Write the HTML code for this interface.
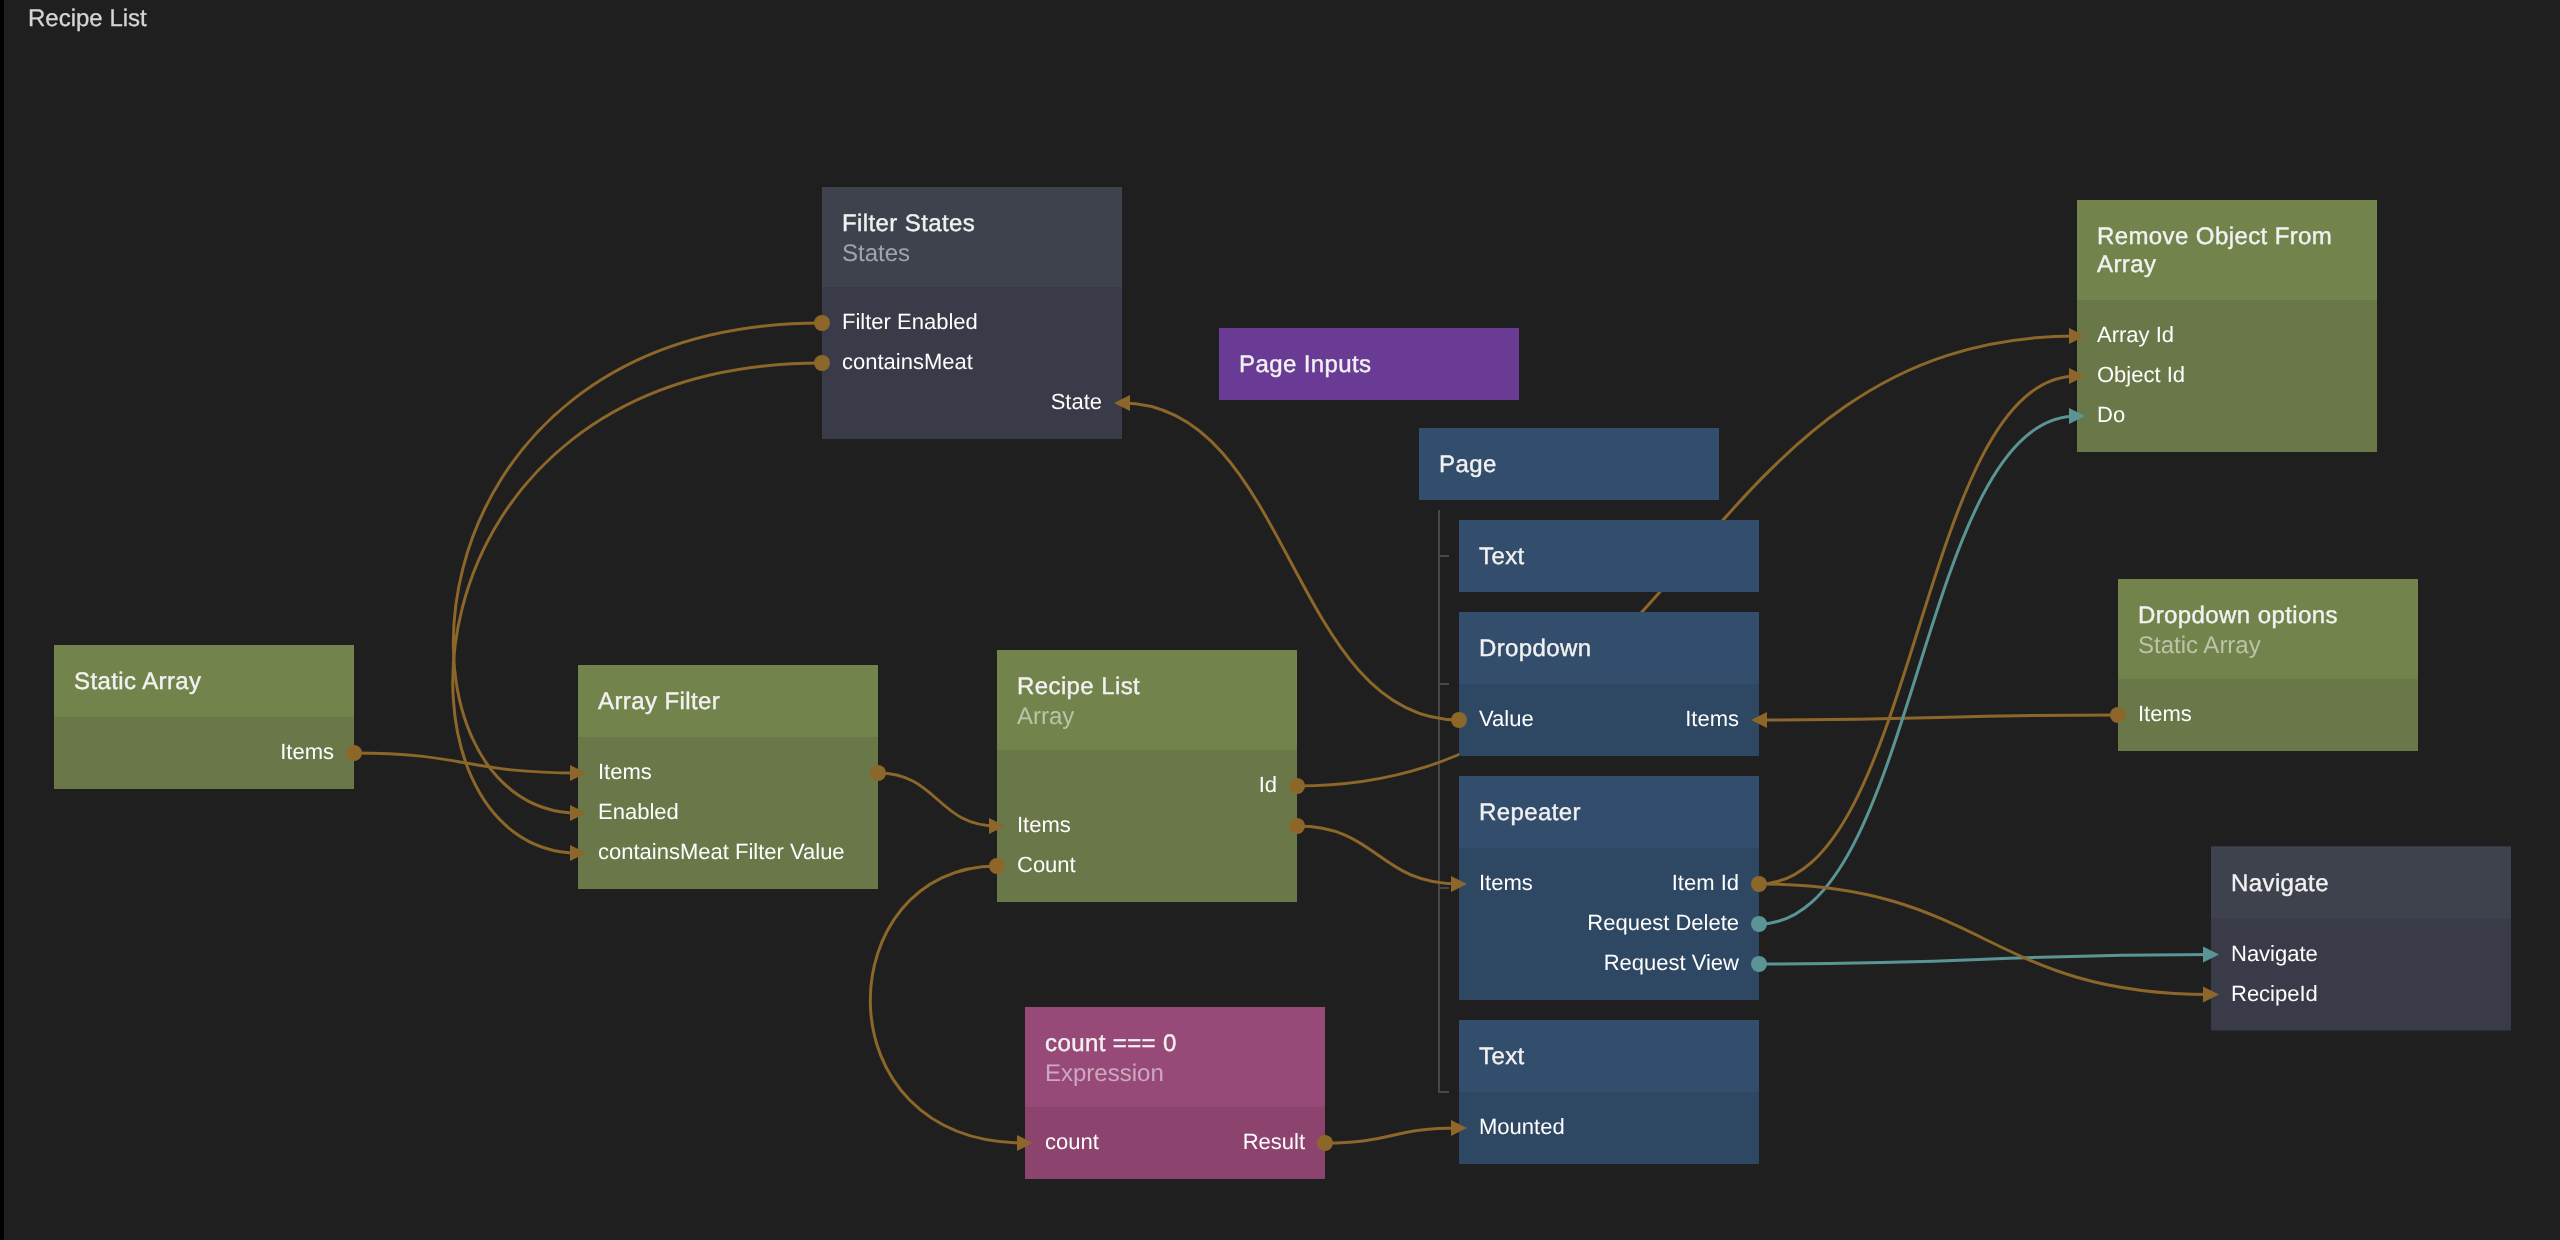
<!DOCTYPE html>
<html><head><meta charset="utf-8"><style>
html,body{margin:0;padding:0;background:#1f1f1f;width:2560px;height:1240px;overflow:hidden}
svg{display:block}
text{text-rendering:geometricPrecision}
.tg{will-change:transform}
text{font-family:"Liberation Sans",sans-serif;}
.pt{font-size:24px;fill:#d6d6d6;stroke:#d6d6d6;stroke-width:0.3px}
.ti{font-size:24px;letter-spacing:0.4px;fill:#f2f2f2;stroke:#f2f2f2;stroke-width:0.4px}
.su{font-size:24px;fill:#ffffff;fill-opacity:0.52}
.po{font-size:22px;fill:#ffffff}
</style></head><body>
<svg width="2560" height="1240" viewBox="0 0 2560 1240">
<rect x="0" y="0" width="2560" height="1240" fill="#1f1f1f"/>
<rect x="0" y="0" width="4" height="1240" fill="#000000"/>
<path d="M1439 510 V1092 H1449 M1439 556 H1449 M1439 684 H1449 M1439 888 H1449" stroke="#474747" stroke-width="2" fill="none"/>
<path d="M354 753 C466.0 753 466.0 773 578 773" stroke="#8c6729" stroke-width="3" fill="none"/>
<path d="M822 323 C388 323 380 813 578 813" stroke="#8c6729" stroke-width="3" fill="none"/>
<path d="M822 363 C386 363 380 853 578 853" stroke="#8c6729" stroke-width="3" fill="none"/>
<path d="M878 773 C937.5 773 937.5 826 997 826" stroke="#8c6729" stroke-width="3" fill="none"/>
<path d="M1297 786 C1687.0 786 1687.0 336 2077 336" stroke="#8c6729" stroke-width="3" fill="none"/>
<path d="M1297 826 C1378.0 826 1378.0 884 1459 884" stroke="#8c6729" stroke-width="3" fill="none"/>
<path d="M997 866 C830 866 817 1143 1025 1143" stroke="#8c6729" stroke-width="3" fill="none"/>
<path d="M1325 1143 C1392.0 1143 1392.0 1128 1459 1128" stroke="#8c6729" stroke-width="3" fill="none"/>
<path d="M1459 720 C1290.5 720 1290.5 403 1122 403" stroke="#8c6729" stroke-width="3" fill="none"/>
<path d="M2118 715 C1938.5 715 1938.5 720 1759 720" stroke="#8c6729" stroke-width="3" fill="none"/>
<path d="M1759 884 C1918.0 884 1918.0 376 2077 376" stroke="#8c6729" stroke-width="3" fill="none"/>
<path d="M1759 924 C1918.0 924 1918.0 416 2077 416" stroke="#5a9494" stroke-width="3" fill="none"/>
<path d="M1759 964 C1985.0 964 1985.0 954.5 2211 954.5" stroke="#5a9494" stroke-width="3" fill="none"/>
<path d="M1759 884 C1985.0 884 1985.0 994.5 2211 994.5" stroke="#8c6729" stroke-width="3" fill="none"/>
<rect x="822" y="187" width="300" height="252" fill="#393c48"/>
<rect x="822" y="187" width="300" height="100" fill="#3e424d"/>
<rect x="1219" y="328" width="300" height="72" fill="#693b94"/>
<rect x="1419" y="428" width="300" height="72" fill="#334e6c"/>
<rect x="1459" y="520" width="300" height="72" fill="#334e6c"/>
<rect x="1459" y="612" width="300" height="144" fill="#2e4863"/>
<rect x="1459" y="612" width="300" height="72" fill="#334e6c"/>
<rect x="1459" y="776" width="300" height="224" fill="#2e4863"/>
<rect x="1459" y="776" width="300" height="72" fill="#334e6c"/>
<rect x="1459" y="1020" width="300" height="144" fill="#2e4863"/>
<rect x="1459" y="1020" width="300" height="72" fill="#334e6c"/>
<rect x="2077" y="200" width="300" height="252" fill="#6a7849"/>
<rect x="2077" y="200" width="300" height="100" fill="#72834b"/>
<rect x="2118" y="579" width="300" height="172" fill="#6a7849"/>
<rect x="2118" y="579" width="300" height="100" fill="#72834b"/>
<rect x="2211" y="846.5" width="300" height="184" fill="#393c48"/>
<rect x="2211" y="846.5" width="300" height="72" fill="#3e424d"/>
<rect x="54" y="645" width="300" height="144" fill="#6a7849"/>
<rect x="54" y="645" width="300" height="72" fill="#72834b"/>
<rect x="578" y="665" width="300" height="224" fill="#6a7849"/>
<rect x="578" y="665" width="300" height="72" fill="#72834b"/>
<rect x="997" y="650" width="300" height="252" fill="#6a7849"/>
<rect x="997" y="650" width="300" height="100" fill="#72834b"/>
<rect x="1025" y="1007" width="300" height="172" fill="#8c436e"/>
<rect x="1025" y="1007" width="300" height="100" fill="#974a78"/>
<circle cx="354" cy="753" r="8" fill="#8c6729"/>
<circle cx="822" cy="323" r="8" fill="#8c6729"/>
<circle cx="822" cy="363" r="8" fill="#8c6729"/>
<path d="M1130 395 L1114 403 L1130 411Z" fill="#8c6729"/>
<path d="M570 765 L586 773 L570 781Z" fill="#8c6729"/>
<path d="M570 805 L586 813 L570 821Z" fill="#8c6729"/>
<path d="M570 845 L586 853 L570 861Z" fill="#8c6729"/>
<circle cx="878" cy="773" r="8" fill="#8c6729"/>
<circle cx="1297" cy="786" r="8" fill="#8c6729"/>
<path d="M989 818 L1005 826 L989 834Z" fill="#8c6729"/>
<circle cx="1297" cy="826" r="8" fill="#8c6729"/>
<circle cx="997" cy="866" r="8" fill="#8c6729"/>
<path d="M1017 1135 L1033 1143 L1017 1151Z" fill="#8c6729"/>
<circle cx="1325" cy="1143" r="8" fill="#8c6729"/>
<circle cx="1459" cy="720" r="8" fill="#8c6729"/>
<path d="M1767 712 L1751 720 L1767 728Z" fill="#8c6729"/>
<path d="M1451 876 L1467 884 L1451 892Z" fill="#8c6729"/>
<circle cx="1759" cy="884" r="8" fill="#8c6729"/>
<circle cx="1759" cy="924" r="8" fill="#5a9494"/>
<circle cx="1759" cy="964" r="8" fill="#5a9494"/>
<path d="M1451 1120 L1467 1128 L1451 1136Z" fill="#8c6729"/>
<path d="M2069 328 L2085 336 L2069 344Z" fill="#8c6729"/>
<path d="M2069 368 L2085 376 L2069 384Z" fill="#8c6729"/>
<path d="M2069 408 L2085 416 L2069 424Z" fill="#5a9494"/>
<circle cx="2118" cy="715" r="8" fill="#8c6729"/>
<path d="M2203 946.5 L2219 954.5 L2203 962.5Z" fill="#5a9494"/>
<path d="M2203 986.5 L2219 994.5 L2203 1002.5Z" fill="#8c6729"/>
<g class="tg" style="opacity:0.999"><text x="28" y="26" class="pt">Recipe List</text>
<text x="842" y="231" class="ti">Filter States</text>
<text x="842" y="261" class="su">States</text>
<text x="842" y="329" class="po">Filter Enabled</text>
<text x="842" y="369" class="po">containsMeat</text>
<text x="1102" y="409" class="po" text-anchor="end">State</text>
<text x="1239" y="372" class="ti">Page Inputs</text>
<text x="1439" y="472" class="ti">Page</text>
<text x="1479" y="564" class="ti">Text</text>
<text x="1479" y="656" class="ti">Dropdown</text>
<text x="1479" y="726" class="po">Value</text>
<text x="1739" y="726" class="po" text-anchor="end">Items</text>
<text x="1479" y="820" class="ti">Repeater</text>
<text x="1479" y="890" class="po">Items</text>
<text x="1739" y="890" class="po" text-anchor="end">Item Id</text>
<text x="1739" y="930" class="po" text-anchor="end">Request Delete</text>
<text x="1739" y="970" class="po" text-anchor="end">Request View</text>
<text x="1479" y="1064" class="ti">Text</text>
<text x="1479" y="1134" class="po">Mounted</text>
<text x="2097" y="244" class="ti">Remove Object From</text>
<text x="2097" y="272" class="ti">Array</text>
<text x="2097" y="342" class="po">Array Id</text>
<text x="2097" y="382" class="po">Object Id</text>
<text x="2097" y="422" class="po">Do</text>
<text x="2138" y="623" class="ti">Dropdown options</text>
<text x="2138" y="653" class="su">Static Array</text>
<text x="2138" y="721" class="po">Items</text>
<text x="2231" y="890.5" class="ti">Navigate</text>
<text x="2231" y="960.5" class="po">Navigate</text>
<text x="2231" y="1000.5" class="po">RecipeId</text>
<text x="74" y="689" class="ti">Static Array</text>
<text x="334" y="759" class="po" text-anchor="end">Items</text>
<text x="598" y="709" class="ti">Array Filter</text>
<text x="598" y="779" class="po">Items</text>
<text x="598" y="819" class="po">Enabled</text>
<text x="598" y="859" class="po">containsMeat Filter Value</text>
<text x="1017" y="694" class="ti">Recipe List</text>
<text x="1017" y="724" class="su">Array</text>
<text x="1277" y="792" class="po" text-anchor="end">Id</text>
<text x="1017" y="832" class="po">Items</text>
<text x="1017" y="872" class="po">Count</text>
<text x="1045" y="1051" class="ti">count === 0</text>
<text x="1045" y="1081" class="su">Expression</text>
<text x="1045" y="1149" class="po">count</text>
<text x="1305" y="1149" class="po" text-anchor="end">Result</text></g>
</svg></body></html>
